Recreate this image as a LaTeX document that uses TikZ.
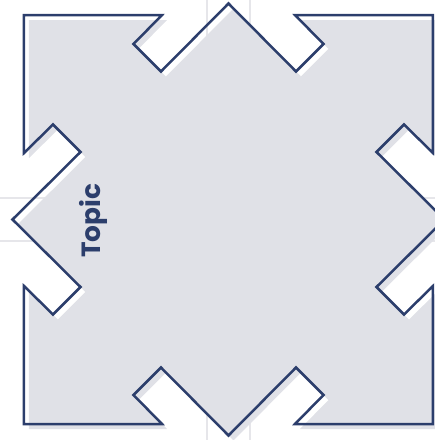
\documentclass[tikz,border=0pt]{standalone}
\usepackage{fontspec}
\setmainfont{Poppins}
\definecolor{navy}{RGB}{44, 62, 108}
\definecolor{paper}{RGB}{224, 225, 231}
\definecolor{gridline}{RGB}{230, 230, 234}

% outline of the cross-shaped tile, centre at (0,0), one unit = one pixel
\newcommand{\tilepath}{%
  (-216,0) -- (-148,67.5) -- (-175.5,95) -- (-204.5,66.5) -- (-204.5,204.5)
  -- (-66.5,204.5) -- (-95,175.5) -- (-67.5,148)
  -- (0,216) -- (67.5,148) -- (95,175.5) -- (66.5,204.5) -- (204.5,204.5)
  -- (204.5,66.5) -- (175.5,95) -- (148,67.5)
  -- (216,0) -- (148,-67.5) -- (175.5,-95) -- (204.5,-66.5) -- (204.5,-204.5)
  -- (66.5,-204.5) -- (95,-175.5) -- (67.5,-148)
  -- (0,-216) -- (-67.5,-148) -- (-95,-175.5) -- (-66.5,-204.5) -- (-204.5,-204.5)
  -- (-204.5,-66.5) -- (-175.5,-95) -- (-148,-67.5) -- cycle}

\begin{document}
\begin{tikzpicture}[
    x=0.02cm, y=0.02cm,
    gridrule/.style={draw=gridline, line width=0.04cm},
    tileshadow/.style={fill=paper, draw=none},
    tileborder/.style={draw=navy, line width=0.05cm, line join=miter},
    label/.style={text=navy, font=\fontsize{15}{18}\selectfont\bfseries, rotate=90}
  ]
    \useasboundingbox (-228.5,-220.5) rectangle (206.5,219.5);
    % grid behind the tile
    \foreach \g in {-21.5,21.5} {
      \draw[gridrule] (\g,-220.5) -- (\g,219.5);
      \draw[gridrule] (-228.5,\g) -- (206.5,\g);
    }
    \fill[tileshadow, xshift=0.1cm, yshift=-0.1cm] \tilepath;
    \draw[tileborder] \tilepath;
    \node[label] (topic) at (-135.5,-1.5) {Topic};
\end{tikzpicture}
\end{document}
